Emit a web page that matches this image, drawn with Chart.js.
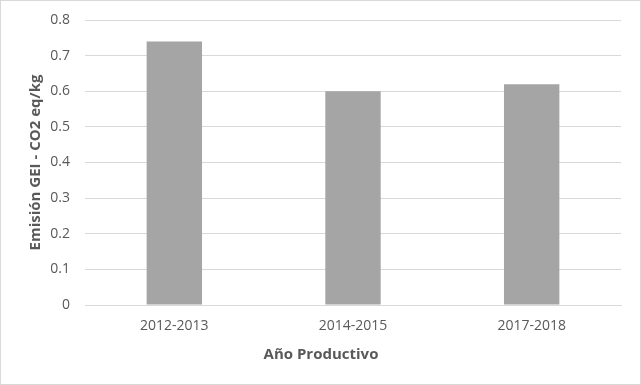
<!DOCTYPE html>
<html>
<head>
<meta charset="utf-8">
<script src="https://cdn.jsdelivr.net/npm/chart.js@4"></script>
<style>
  html, body { margin: 0; padding: 0; background: #fff; }
  #wrap { width: 641px; height: 385px; box-sizing: border-box; border: 1px solid #d9d9d9; }
</style>
</head>
<body>
<div id="wrap"><canvas id="barChart" width="639" height="383"></canvas></div>
<script>
// Data
const categories = ["2012-2013", "2014-2015", "2017-2018"];
const emissions = [0.74, 0.60, 0.62];
const yTitle = "Emisión GEI - CO2 eq/kg";
const xTitle = "Año Productivo";

const textColor = "#595959";
const gridColor = "#d9d9d9";
const fontFamily = "'Open Sans', sans-serif";

// Create graph
const ctx = document.getElementById("barChart");
new Chart(ctx, {
  type: "bar",
  data: {
    labels: categories,
    datasets: [
      {
        data: emissions,
        backgroundColor: "#a5a5a5",
        categoryPercentage: 1,
        barPercentage: 0.31,
      },
    ],
  },
  options: {
    responsive: false,
    animation: false,
    layout: {
      padding: { top: 19, right: 19, left: 20, bottom: 0 },
    },
    plugins: {
      legend: { display: false },
      tooltip: { enabled: false },
      // x axis title: in the original it is centred on the whole chart, not on the plot
      title: {
        display: true,
        position: "bottom",
        text: xTitle,
        color: textColor,
        font: { family: fontFamily, size: 15, weight: "bold" },
        padding: { top: 0, bottom: 20 },
      },
    },
    scales: {
      x: {
        grid: { display: false, drawTicks: false },
        border: { color: gridColor },
        ticks: { color: textColor, font: { family: fontFamily, size: 14 }, padding: 13 },
        afterFit: (scale) => {
          scale.height = 41;
          scale.paddingLeft = 0;
          scale.paddingRight = 0;
        },
      },
      y: {
        min: 0,
        max: 0.8,
        grid: { color: gridColor, drawTicks: false },
        border: { display: false },
        ticks: {
          stepSize: 0.1,
          color: textColor,
          font: { family: fontFamily, size: 14 },
          padding: 15,
          callback: (v) => Math.round(v * 10) / 10,
        },
        title: {
          display: true,
          text: yTitle,
          color: textColor,
          font: { family: fontFamily, size: 15, weight: "bold" },
          padding: { top: 6, bottom: 0 },
        },
        afterFit: (scale) => {
          scale.width = 64;
          scale.paddingTop = 0;
          scale.paddingBottom = 0;
        },
      },
    },
  },
});
</script>
</body>
</html>
